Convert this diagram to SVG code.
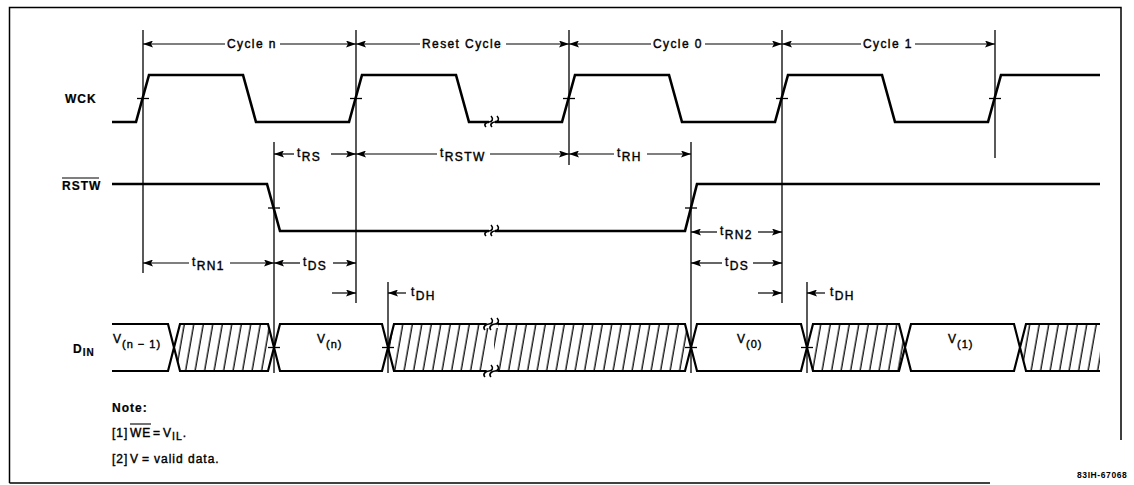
<svg xmlns="http://www.w3.org/2000/svg" width="1134" height="485" viewBox="0 0 1134 485">
<style>
  .t{font-family:"Liberation Sans",Arial,sans-serif;font-size:12px;letter-spacing:1.4px;fill:#000;stroke:#000;stroke-width:0.4px}
  .b{font-weight:bold;letter-spacing:1px;stroke-width:0.2px}
  .sig{stroke:#000;stroke-width:2.6;stroke-linejoin:miter}
  .bus{stroke:#000;stroke-width:2.2;stroke-linejoin:miter}
  .ref{fill:none;stroke:#000;stroke-width:1.3}
  .dim{fill:none;stroke:#000;stroke-width:1.2}
  .tick{stroke:#000;stroke-width:1.3}
  .brk{fill:none;stroke:#000;stroke-width:1.6}
</style>
<defs>
  <marker id="ah" viewBox="0 0 10 7" refX="10" refY="3.5" markerWidth="10" markerHeight="7" markerUnits="userSpaceOnUse" orient="auto">
    <path d="M0,0 L10,3.5 L0,7 L2,3.5 z" fill="#000"/>
  </marker>
  <pattern id="hatch" patternUnits="userSpaceOnUse" width="9.5" height="60" patternTransform="skewX(-10)">
    <rect width="9.5" height="60" fill="#fff"/>
    <line x1="4" y1="0" x2="4" y2="60" stroke="#000" stroke-width="1.3"/>
  </pattern>
</defs>
<rect x="0" y="0" width="1134" height="485" fill="#fff"/>
<g id="frame" fill="none" stroke="#000" stroke-width="1.5">
  <path d="M9.5,483 V7.5 H1121 V440"/>
  <path d="M9.5,483 H990"/>
</g>

<!-- signal labels -->
<g id="label-wck"><text class="t b" x="65" y="103" font-size="13">WCK</text></g>
<g id="label-rstw"><text class="t b" x="62" y="190" font-size="13">RSTW</text><line x1="62" y1="178" x2="99" y2="178" stroke="#000" stroke-width="1.2"/></g>
<g id="label-din"><text class="t b" x="73" y="353" font-size="13">D<tspan font-size="10" dy="3">IN</tspan></text></g>

<!-- DIN bus -->
<g id="din">
  <path class="bus" fill="none" d="M112,324 H168 L174,347.5 L168,371 H112"/>
  <polygon class="bus" fill="url(#hatch)" points="174,347.5 180,324 268,324 274,347.5 268,371 180,371"/>
  <polygon class="bus" fill="#fff" points="274,347.5 280,324 382,324 388,347.5 382,371 280,371"/>
  <polygon class="bus" fill="url(#hatch)" points="388,347.5 394,324 685,324 691,347.5 685,371 394,371"/>
  <polygon class="bus" fill="#fff" points="691,347.5 697,324 801,324 807,347.5 801,371 697,371"/>
  <polygon class="bus" fill="url(#hatch)" points="807,347.5 813,324 899,324 905,347.5 899,371 813,371"/>
  <polygon class="bus" fill="#fff" points="905,347.5 911,324 1014,324 1020,347.5 1014,371 911,371"/>
  <path class="bus" fill="url(#hatch)" d="M1100,324 H1026 L1020,347.5 L1026,371 H1100"/>
  <!-- break marks -->
  <rect x="486" y="318" width="12" height="10" fill="#fff"/>
  <rect x="486" y="367" width="12" height="10" fill="#fff"/>
  <rect x="489" y="328" width="5" height="39" fill="#fff"/>
  <path class="brk" d="M484,324 H487 M497,324 H500 M485,330 C482,327 486,324 489,324 C492,324 494,321 491,318 M491,330 C488,327 492,324 495,324 C498,324 500,321 497,318"/>
  <path class="brk" d="M484,371 H487 M497,371 H500 M485,377 C482,374 486,371 489,371 C492,371 494,368 491,365 M491,377 C488,374 492,371 495,371 C498,371 500,368 497,365"/>
  <line class="tick" x1="268" y1="347.5" x2="280" y2="347.5"/>
  <line class="tick" x1="382" y1="347.5" x2="394" y2="347.5"/>
  <line class="tick" x1="685" y1="347.5" x2="697" y2="347.5"/>
  <line class="tick" x1="801" y1="347.5" x2="813" y2="347.5"/>
  <text class="t" x="113" y="343" font-size="12.5" style="letter-spacing:1px">V<tspan font-size="11" dy="5">(n − 1)</tspan></text>
  <text class="t" x="317" y="343" font-size="12.5" style="letter-spacing:1px">V<tspan font-size="11" dy="5">(n)</tspan></text>
  <text class="t" x="737" y="343" font-size="12.5" style="letter-spacing:1px">V<tspan font-size="11" dy="5">(0)</tspan></text>
  <text class="t" x="948" y="343" font-size="12.5" style="letter-spacing:1px">V<tspan font-size="11" dy="5">(1)</tspan></text>
</g>

<!-- WCK -->
<g id="wck">
  <path class="sig" fill="none" d="M112,122 H136 L149,75 H243 L256,122 H349 L362,75 H456 L469,122 H562 L575,75 H669 L682,122 H775 L788,75 H882 L895,122 H988 L1001,75 H1100"/>
  <line class="tick" x1="137" y1="98.5" x2="149" y2="98.5"/>
  <line class="tick" x1="350" y1="98.5" x2="362" y2="98.5"/>
  <line class="tick" x1="563" y1="98.5" x2="575" y2="98.5"/>
  <line class="tick" x1="776" y1="98.5" x2="788" y2="98.5"/>
  <line class="tick" x1="989" y1="98.5" x2="1001" y2="98.5"/>
  <rect x="489" y="118" width="6" height="8" fill="#fff"/>
  <path class="brk" d="M486,127 C483,124 487,122 489,122 C492,122 494,119 491,116 M492,127 C489,124 493,122 495,122 C498,122 500,119 497,116"/>
</g>

<!-- RSTW -->
<g id="rstw">
  <path class="sig" fill="none" d="M112,184 H267 L280,231 H685 L697,184 H1100"/>
  <line class="tick" x1="268" y1="208" x2="280" y2="208"/>
  <line class="tick" x1="685" y1="208" x2="697" y2="208"/>
  <rect x="489" y="227" width="6" height="8" fill="#fff"/>
  <path class="brk" d="M486,236 C483,233 487,231 489,231 C492,231 494,228 491,225 M492,236 C489,233 493,231 495,231 C498,231 500,228 497,225"/>
</g>

<!-- reference lines and dimension arrows -->
<g id="connectors">
  <line class="ref" x1="143" y1="30" x2="143" y2="273"/>
  <line class="ref" x1="356" y1="30" x2="356" y2="303"/>
  <line class="ref" x1="569" y1="30" x2="569" y2="165"/>
  <line class="ref" x1="782" y1="30" x2="782" y2="303"/>
  <line class="ref" x1="995" y1="30" x2="995" y2="158"/>
  <line class="ref" x1="274" y1="142" x2="274" y2="373"/>
  <line class="ref" x1="691" y1="142" x2="691" y2="373"/>
  <line class="ref" x1="388" y1="282" x2="388" y2="373"/>
  <line class="ref" x1="807" y1="282" x2="807" y2="373"/>

  <line class="dim" x1="225" y1="44" x2="143" y2="44" marker-end="url(#ah)"/>
  <line class="dim" x1="280" y1="44" x2="356" y2="44" marker-end="url(#ah)"/>
  <line class="dim" x1="420" y1="44" x2="356" y2="44" marker-end="url(#ah)"/>
  <line class="dim" x1="506" y1="44" x2="569" y2="44" marker-end="url(#ah)"/>
  <line class="dim" x1="651" y1="44" x2="569" y2="44" marker-end="url(#ah)"/>
  <line class="dim" x1="705" y1="44" x2="782" y2="44" marker-end="url(#ah)"/>
  <line class="dim" x1="861" y1="44" x2="782" y2="44" marker-end="url(#ah)"/>
  <line class="dim" x1="915" y1="44" x2="995" y2="44" marker-end="url(#ah)"/>

  <line class="dim" x1="294" y1="154" x2="274" y2="154" marker-end="url(#ah)"/>
  <line class="dim" x1="331" y1="154" x2="356" y2="154" marker-end="url(#ah)"/>
  <line class="dim" x1="437" y1="154" x2="356" y2="154" marker-end="url(#ah)"/>
  <line class="dim" x1="490" y1="154" x2="569" y2="154" marker-end="url(#ah)"/>
  <line class="dim" x1="614" y1="154" x2="569" y2="154" marker-end="url(#ah)"/>
  <line class="dim" x1="647" y1="154" x2="691" y2="154" marker-end="url(#ah)"/>

  <line class="dim" x1="189" y1="263" x2="143" y2="263" marker-end="url(#ah)"/>
  <line class="dim" x1="230" y1="263" x2="274" y2="263" marker-end="url(#ah)"/>
  <line class="dim" x1="300" y1="263" x2="274" y2="263" marker-end="url(#ah)"/>
  <line class="dim" x1="333" y1="263" x2="356" y2="263" marker-end="url(#ah)"/>

  <line class="dim" x1="717" y1="232" x2="691" y2="232" marker-end="url(#ah)"/>
  <line class="dim" x1="758" y1="232" x2="782" y2="232" marker-end="url(#ah)"/>
  <line class="dim" x1="722" y1="263" x2="691" y2="263" marker-end="url(#ah)"/>
  <line class="dim" x1="753" y1="263" x2="782" y2="263" marker-end="url(#ah)"/>

  <line class="dim" x1="332" y1="293" x2="356" y2="293" marker-end="url(#ah)"/>
  <line class="dim" x1="406" y1="293" x2="388" y2="293" marker-end="url(#ah)"/>
  <line class="dim" x1="758" y1="293" x2="782" y2="293" marker-end="url(#ah)"/>
  <line class="dim" x1="825" y1="293" x2="807" y2="293" marker-end="url(#ah)"/>
</g>

<!-- dimension labels -->
<g id="labels">
  <text class="t" x="227" y="48">Cycle n</text>
  <text class="t" x="422" y="48">Reset Cycle</text>
  <text class="t" x="653" y="48">Cycle 0</text>
  <text class="t" x="863" y="48">Cycle 1</text>

  <text class="t" x="297" y="157" font-size="10">t<tspan font-size="12" dy="4">RS</tspan></text>
  <text class="t" x="440" y="157" font-size="10">t<tspan font-size="12" dy="4">RSTW</tspan></text>
  <text class="t" x="617" y="157" font-size="10">t<tspan font-size="12" dy="4">RH</tspan></text>

  <text class="t" x="192" y="266" font-size="10">t<tspan font-size="12" dy="4">RN1</tspan></text>
  <text class="t" x="303" y="266" font-size="10">t<tspan font-size="12" dy="4">DS</tspan></text>
  <text class="t" x="720" y="235" font-size="10">t<tspan font-size="12" dy="4">RN2</tspan></text>
  <text class="t" x="725" y="266" font-size="10">t<tspan font-size="12" dy="4">DS</tspan></text>

  <text class="t" x="411" y="296" font-size="10">t<tspan font-size="12" dy="4">DH</tspan></text>
  <text class="t" x="830" y="296" font-size="10">t<tspan font-size="12" dy="4">DH</tspan></text>
</g>

<!-- notes -->
<g id="notes">
  <text class="t b" x="112" y="412">Note:</text>
  <text class="t" y="437" style="letter-spacing:1px"><tspan x="112">[1]</tspan><tspan x="130">WE</tspan><tspan x="153">=</tspan><tspan x="163">V</tspan><tspan font-size="10.5" dy="3">IL</tspan><tspan dy="-3">.</tspan></text>
  <line x1="130" y1="424" x2="151" y2="424" stroke="#000" stroke-width="1.1"/>
  <text class="t" y="463" style="letter-spacing:1px"><tspan x="112">[2]</tspan><tspan x="130">V</tspan><tspan x="142">=</tspan><tspan x="154">valid data.</tspan></text>
  <text x="1077" y="478" style="font-family:'Liberation Sans',Arial,sans-serif;font-size:8.5px;font-weight:bold;letter-spacing:0.6px">83IH-67068</text>
</g>
</svg>
